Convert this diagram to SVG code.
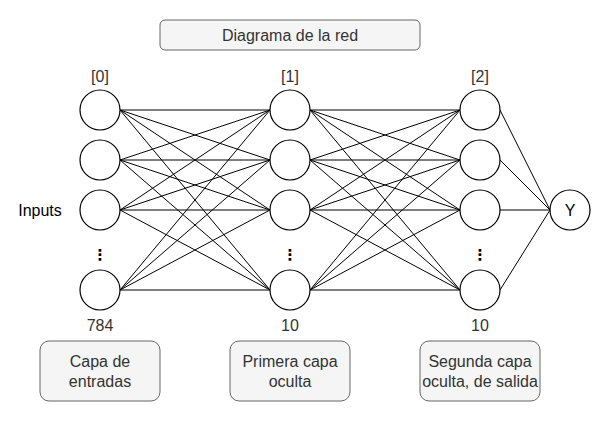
<svg xmlns="http://www.w3.org/2000/svg" width="611" height="421" viewBox="0 0 611 421">
<style>
text{font-family:"Liberation Sans",Arial,sans-serif;font-size:16px;text-anchor:middle}
.n{fill:#ffffff;stroke:#000000;stroke-width:1.2}
.box{fill:#f5f5f5;stroke:#666666;stroke-width:1}
.bt{fill:#333333}
.lbl{fill:#333333}
.dots{font-family:"DejaVu Sans",sans-serif;font-weight:bold;font-size:15px;fill:#000}
#edges line{stroke:#000;stroke-width:1}
</style>
<rect width="611" height="421" fill="#ffffff"/>
<g id="title"><rect class="box" x="160" y="20" width="260" height="30" rx="5"/><text class="bt" x="290" y="40.5">Diagrama de la red</text></g>
<g id="edges">
<!-- layer 0 to 1 -->
<line x1="120" y1="110" x2="270" y2="110"/><line x1="120" y1="110" x2="270" y2="160"/><line x1="120" y1="110" x2="270" y2="210"/><line x1="120" y1="110" x2="270" y2="290"/>
<line x1="120" y1="160" x2="270" y2="110"/><line x1="120" y1="160" x2="270" y2="160"/><line x1="120" y1="160" x2="270" y2="210"/><line x1="120" y1="160" x2="270" y2="290"/>
<line x1="120" y1="210" x2="270" y2="110"/><line x1="120" y1="210" x2="270" y2="160"/><line x1="120" y1="210" x2="270" y2="210"/><line x1="120" y1="210" x2="270" y2="290"/>
<line x1="120" y1="290" x2="270" y2="110"/><line x1="120" y1="290" x2="270" y2="160"/><line x1="120" y1="290" x2="270" y2="210"/><line x1="120" y1="290" x2="270" y2="290"/>
<!-- layer 1 to 2 -->
<line x1="310" y1="110" x2="460" y2="110"/><line x1="310" y1="110" x2="460" y2="160"/><line x1="310" y1="110" x2="460" y2="210"/><line x1="310" y1="110" x2="460" y2="290"/>
<line x1="310" y1="160" x2="460" y2="110"/><line x1="310" y1="160" x2="460" y2="160"/><line x1="310" y1="160" x2="460" y2="210"/><line x1="310" y1="160" x2="460" y2="290"/>
<line x1="310" y1="210" x2="460" y2="110"/><line x1="310" y1="210" x2="460" y2="160"/><line x1="310" y1="210" x2="460" y2="210"/><line x1="310" y1="210" x2="460" y2="290"/>
<line x1="310" y1="290" x2="460" y2="110"/><line x1="310" y1="290" x2="460" y2="160"/><line x1="310" y1="290" x2="460" y2="210"/><line x1="310" y1="290" x2="460" y2="290"/>
<!-- layer 2 to Y -->
<line x1="500" y1="110" x2="550" y2="210"/><line x1="500" y1="160" x2="550" y2="210"/><line x1="500" y1="210" x2="550" y2="210"/><line x1="500" y1="290" x2="550" y2="210"/>
</g>
<g id="layer0">
<text class="lbl" x="100" y="82">[0]</text>
<circle id="n0a" class="n" cx="100" cy="110" r="20"/>
<circle id="n0b" class="n" cx="100" cy="160" r="20"/>
<circle id="n0c" class="n" cx="100" cy="210" r="20"/>
<text class="dots" x="100" y="260">⋮</text>
<circle id="n0d" class="n" cx="100" cy="290" r="20"/>
<text class="lbl" x="100" y="331">784</text>
</g>
<g id="layer1">
<text class="lbl" x="290" y="82">[1]</text>
<circle id="n1a" class="n" cx="290" cy="110" r="20"/>
<circle id="n1b" class="n" cx="290" cy="160" r="20"/>
<circle id="n1c" class="n" cx="290" cy="210" r="20"/>
<text class="dots" x="290" y="260">⋮</text>
<circle id="n1d" class="n" cx="290" cy="290" r="20"/>
<text class="lbl" x="290" y="331">10</text>
</g>
<g id="layer2">
<text class="lbl" x="480" y="82">[2]</text>
<circle id="n2a" class="n" cx="480" cy="110" r="20"/>
<circle id="n2b" class="n" cx="480" cy="160" r="20"/>
<circle id="n2c" class="n" cx="480" cy="210" r="20"/>
<text class="dots" x="480" y="260">⋮</text>
<circle id="n2d" class="n" cx="480" cy="290" r="20"/>
<text class="lbl" x="480" y="331">10</text>
</g>
<g id="output"><circle class="n" cx="570" cy="210" r="20"/><text x="570" y="216">Y</text></g>
<g id="inputs"><text x="40" y="216">Inputs</text></g>
<g id="box0"><rect class="box" x="40" y="341" width="120" height="60" rx="9"/><text class="bt" x="100" y="367">Capa de</text><text class="bt" x="100" y="387">entradas</text></g>
<g id="box1"><rect class="box" x="230" y="341" width="120" height="60" rx="9"/><text class="bt" x="290" y="367">Primera capa</text><text class="bt" x="290" y="387">oculta</text></g>
<g id="box2"><rect class="box" x="420" y="341" width="120" height="60" rx="9"/><text class="bt" x="480" y="367">Segunda capa</text><text class="bt" x="480" y="387">oculta, de salida</text></g>
</svg>
